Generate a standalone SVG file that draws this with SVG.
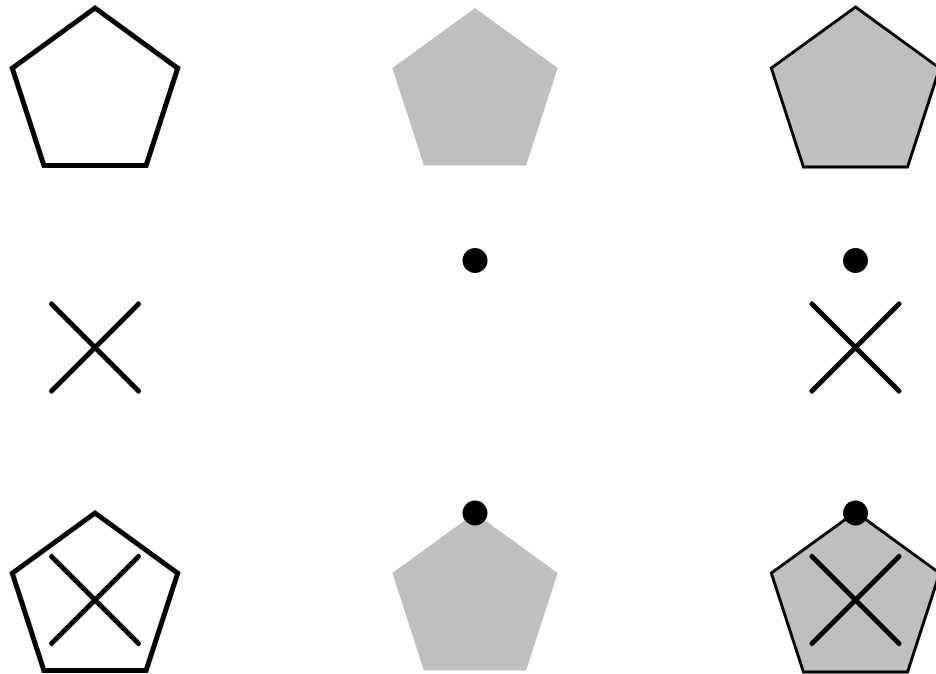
<svg xmlns="http://www.w3.org/2000/svg" width="936" height="674" viewBox="0 0 936 674">
<style>
.bg{fill:#ffffff}
.pent-open{fill:#ffffff;stroke:#000;stroke-width:5;stroke-linejoin:miter}
.pent-gray{fill:#bfbfbf;stroke:none}
.pent-grayline{fill:#bfbfbf;stroke:#000;stroke-width:3;stroke-linejoin:miter}
.cross{stroke:#000;stroke-width:5;stroke-linecap:round;fill:none}
.dot{fill:#000}
</style>
<defs>
<polygon id="pent" points="0,-87 82.74,-26.88 51.14,70.38 -51.14,70.38 -82.74,-26.88"/>
<polygon id="pentL" points="0,-88.5 84.17,-27.35 52.02,71.6 -52.02,71.6 -84.17,-27.35"/>
<path id="x" d="M-43.5,-43.5 L43.5,43.5 M43.5,-43.5 L-43.5,43.5"/>
</defs>
<rect class="bg" x="0" y="0" width="936" height="674"/>
<g id="r1c1"><use href="#pent" class="pent-open" x="95" y="95"/></g>
<g id="r1c2"><use href="#pent" class="pent-gray" x="475" y="95"/></g>
<g id="r1c3"><use href="#pentL" class="pent-grayline" x="855.5" y="95.5"/></g>
<g id="r2c1"><use href="#x" class="cross" x="95" y="347.5"/></g>
<g id="r2c2"><circle class="dot" cx="475" cy="260.5" r="12.5"/></g>
<g id="r2c3"><circle class="dot" cx="855.5" cy="260.5" r="12.5"/><use href="#x" class="cross" x="855.5" y="347.5"/></g>
<g id="r3c1"><use href="#pent" class="pent-open" x="95" y="600"/><use href="#x" class="cross" x="95" y="600"/></g>
<g id="r3c2"><use href="#pent" class="pent-gray" x="475" y="600"/><circle class="dot" cx="475" cy="513" r="12.5"/></g>
<g id="r3c3"><use href="#pentL" class="pent-grayline" x="855.5" y="600.5"/><use href="#x" class="cross" x="855.5" y="600"/><circle class="dot" cx="855.5" cy="513" r="12.5"/></g>
<g id="connectors"/>
</svg>
